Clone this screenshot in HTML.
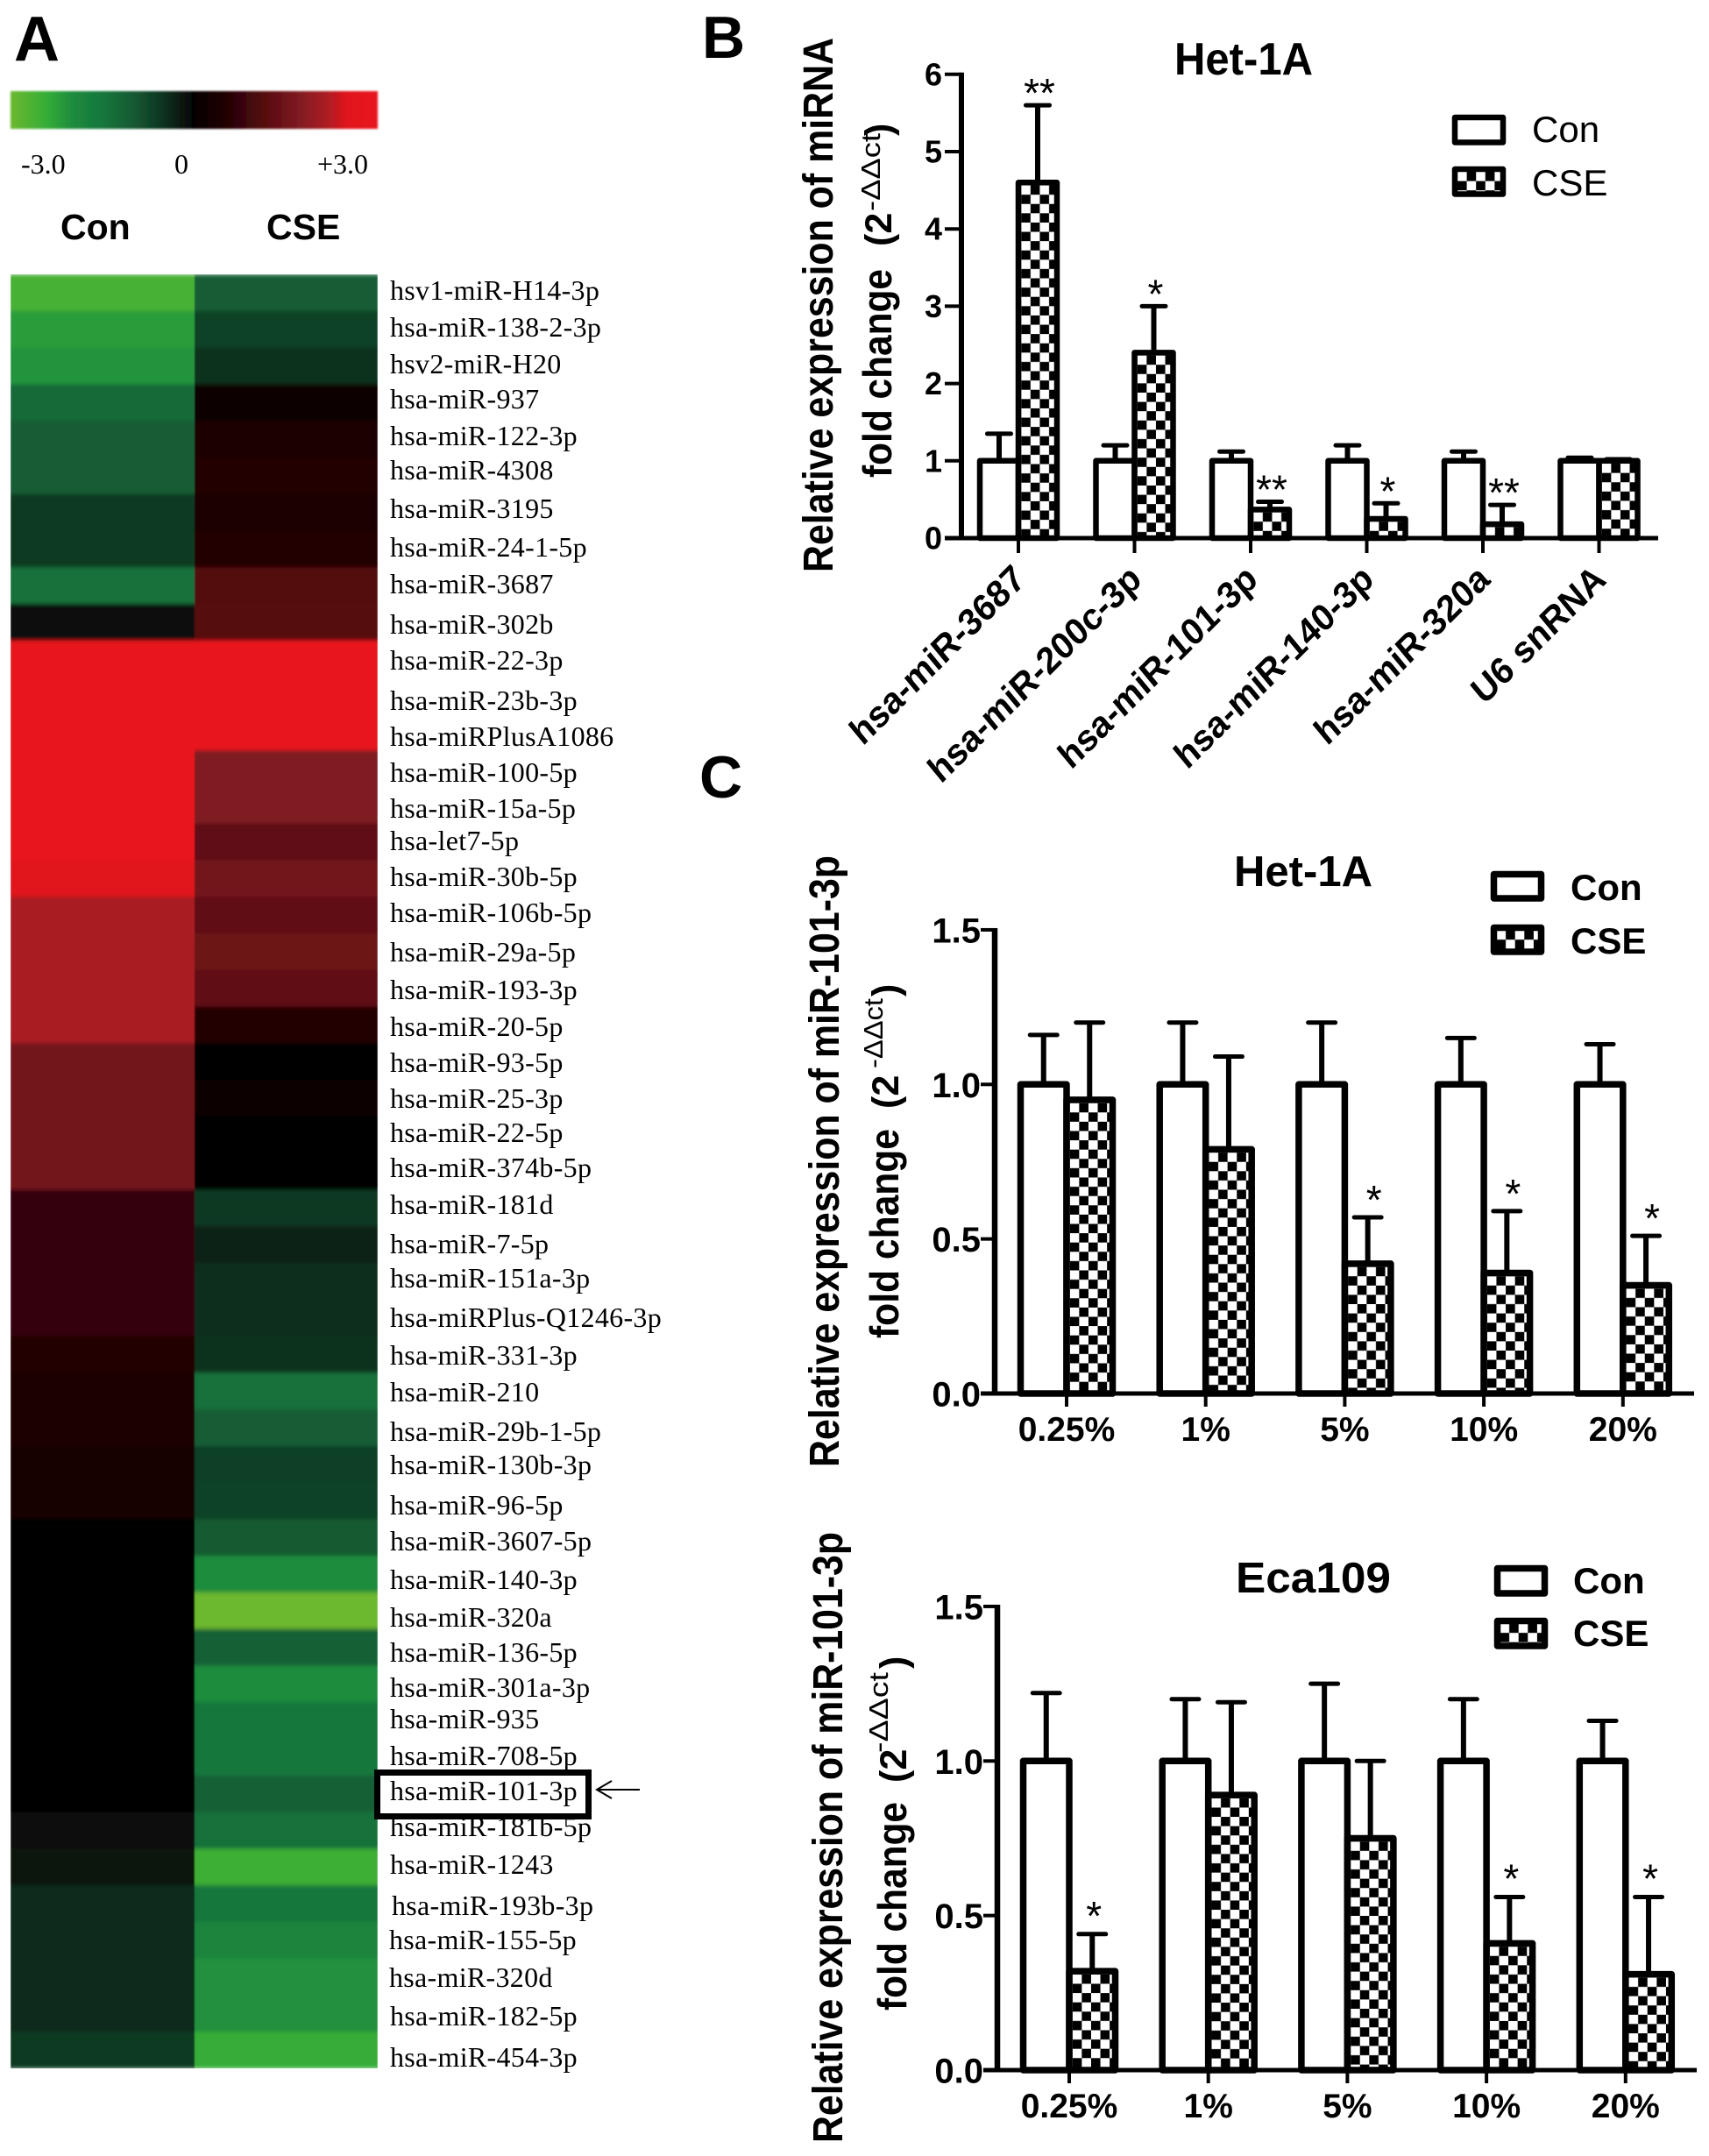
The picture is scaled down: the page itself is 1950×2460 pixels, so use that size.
<!DOCTYPE html>
<html lang="en">
<head>
<meta charset="utf-8">
<title>miRNA heatmap and qPCR bar charts</title>
<style>
html,body{margin:0;padding:0;background:#fff;}
svg{display:block;}
text{fill:#000;}
.sans{font-family:"Liberation Sans",sans-serif;}
.bold{font-family:"Liberation Sans",sans-serif;font-weight:700;}
.rowlabel{font-family:"Liberation Serif",serif;font-size:32px;letter-spacing:.3px;}
.cb{font-family:"Liberation Serif",serif;font-size:32px;}
.panel{font-family:"Liberation Sans",sans-serif;font-weight:700;font-size:68px;}
</style>
</head>
<body>
<svg id="figure" xmlns="http://www.w3.org/2000/svg" width="1950" height="2460" viewBox="0 0 1950 2460">
<defs>
  <filter id="softY" x="-2%" y="-2%" width="104%" height="104%"><feGaussianBlur stdDeviation="0.8 2.4"/></filter>
  <filter id="softBar" x="-2%" y="-10%" width="104%" height="120%"><feGaussianBlur stdDeviation="1"/></filter>
  <clipPath id="heatClip"><rect x="12" y="313" width="419" height="2047"/></clipPath>
  <linearGradient id="colorbarGradient" x1="0" x2="1" y1="0" y2="0"></linearGradient>
</defs>
<rect width="1950" height="2460" fill="#fff"/>

<!-- Panel A -->
<text class="panel" style="font-size:72px" x="16" y="69">A</text>
<rect x="12" y="104" width="419" height="43" fill="url(#colorbarGradient)" filter="url(#softBar)"/>
<text class="cb" x="24" y="198">-3.0</text>
<text class="cb" x="207" y="198" text-anchor="middle">0</text>
<text class="cb" x="362" y="198">+3.0</text>
<text class="bold" style="font-size:41px" x="69" y="273">Con</text>
<text class="bold" style="font-size:41px" x="304" y="273">CSE</text>
<g clip-path="url(#heatClip)"><g id="heatmap" filter="url(#softY)"></g></g>

<g>
<text class="rowlabel" x="445" y="342">hsv1-miR-H14-3p</text>
<text class="rowlabel" x="445" y="384">hsa-miR-138-2-3p</text>
<text class="rowlabel" x="445" y="426">hsv2-miR-H20</text>
<text class="rowlabel" x="445" y="466">hsa-miR-937</text>
<text class="rowlabel" x="445" y="508">hsa-miR-122-3p</text>
<text class="rowlabel" x="445" y="547">hsa-miR-4308</text>
<text class="rowlabel" x="445" y="591">hsa-miR-3195</text>
<text class="rowlabel" x="445" y="635">hsa-miR-24-1-5p</text>
<text class="rowlabel" x="445" y="677">hsa-miR-3687</text>
<text class="rowlabel" x="445" y="723">hsa-miR-302b</text>
<text class="rowlabel" x="445" y="764">hsa-miR-22-3p</text>
<text class="rowlabel" x="445" y="810">hsa-miR-23b-3p</text>
<text class="rowlabel" x="445" y="851">hsa-miRPlusA1086</text>
<text class="rowlabel" x="445" y="892">hsa-miR-100-5p</text>
<text class="rowlabel" x="445" y="933">hsa-miR-15a-5p</text>
<text class="rowlabel" x="445" y="970">hsa-let7-5p</text>
<text class="rowlabel" x="445" y="1011">hsa-miR-30b-5p</text>
<text class="rowlabel" x="445" y="1052">hsa-miR-106b-5p</text>
<text class="rowlabel" x="445" y="1097">hsa-miR-29a-5p</text>
<text class="rowlabel" x="445" y="1140">hsa-miR-193-3p</text>
<text class="rowlabel" x="445" y="1182">hsa-miR-20-5p</text>
<text class="rowlabel" x="445" y="1223">hsa-miR-93-5p</text>
<text class="rowlabel" x="445" y="1264">hsa-miR-25-3p</text>
<text class="rowlabel" x="445" y="1303">hsa-miR-22-5p</text>
<text class="rowlabel" x="445" y="1343">hsa-miR-374b-5p</text>
<text class="rowlabel" x="445" y="1385">hsa-miR-181d</text>
<text class="rowlabel" x="445" y="1430">hsa-miR-7-5p</text>
<text class="rowlabel" x="445" y="1469">hsa-miR-151a-3p</text>
<text class="rowlabel" x="445" y="1514">hsa-miRPlus-Q1246-3p</text>
<text class="rowlabel" x="445" y="1557">hsa-miR-331-3p</text>
<text class="rowlabel" x="445" y="1599">hsa-miR-210</text>
<text class="rowlabel" x="445" y="1644">hsa-miR-29b-1-5p</text>
<text class="rowlabel" x="445" y="1682">hsa-miR-130b-3p</text>
<text class="rowlabel" x="445" y="1728">hsa-miR-96-5p</text>
<text class="rowlabel" x="445" y="1769">hsa-miR-3607-5p</text>
<text class="rowlabel" x="445" y="1813">hsa-miR-140-3p</text>
<text class="rowlabel" x="445" y="1856">hsa-miR-320a</text>
<text class="rowlabel" x="445" y="1896">hsa-miR-136-5p</text>
<text class="rowlabel" x="445" y="1936">hsa-miR-301a-3p</text>
<text class="rowlabel" x="445" y="1972">hsa-miR-935</text>
<text class="rowlabel" x="445" y="2014">hsa-miR-708-5p</text>
<text class="rowlabel" x="445" y="2095">hsa-miR-181b-5p</text>
<text class="rowlabel" x="445" y="2138">hsa-miR-1243</text>
<text class="rowlabel" x="447" y="2185">hsa-miR-193b-3p</text>
<text class="rowlabel" x="444" y="2224">hsa-miR-155-5p</text>
<text class="rowlabel" x="444" y="2267">hsa-miR-320d</text>
<text class="rowlabel" x="445" y="2311">hsa-miR-182-5p</text>
<text class="rowlabel" x="445" y="2358">hsa-miR-454-3p</text>
</g>
<rect x="430.5" y="2022.5" width="241" height="50" fill="#fff" stroke="#000" stroke-width="7"/>
<text class="rowlabel" x="445" y="2054">hsa-miR-101-3p</text>
<path d="M730 2042H681M698 2032L681 2042L698 2052" fill="none" stroke="#000" stroke-width="2"/>

<!-- Panel labels -->
<text class="panel" x="801" y="66">B</text>
<text class="panel" x="798" y="910">C</text>

<!-- Chart B static text -->
<g>
<text class="bold" style="font-size:52px" x="1340" y="85" textLength="158" lengthAdjust="spacingAndGlyphs">Het-1A</text>
<text class="bold" style="font-size:48px" transform="translate(950,653) rotate(-90)" textLength="610" lengthAdjust="spacingAndGlyphs">Relative expression of miRNA</text>
<text class="bold" style="font-size:46px" transform="translate(1017,545) rotate(-90)" textLength="238" lengthAdjust="spacingAndGlyphs">fold change</text>
<text class="bold" style="font-size:43px" transform="translate(1017,281) rotate(-90)">(2</text>
<text class="sans" style="font-size:31px" transform="translate(1004,241) rotate(-90)" textLength="89" lengthAdjust="spacingAndGlyphs">-ΔΔct</text>
<text class="bold" style="font-size:43px" transform="translate(1017,155) rotate(-90)">)</text>
<text class="sans" style="font-size:42px" x="1748" y="162">Con</text>
<text class="sans" style="font-size:42px" x="1748" y="223">CSE</text>
</g>

<!-- Chart C1 static text -->
<g>
<text class="bold" style="font-size:49px" x="1408" y="1011" textLength="158" lengthAdjust="spacingAndGlyphs">Het-1A</text>
<text class="bold" style="font-size:48px" transform="translate(957,1674) rotate(-90)" textLength="698" lengthAdjust="spacingAndGlyphs">Relative expression of miR-101-3p</text>
<text class="bold" style="font-size:46px" transform="translate(1025,1527) rotate(-90)" textLength="239" lengthAdjust="spacingAndGlyphs">fold change</text>
<text class="bold" style="font-size:43px" transform="translate(1025,1265) rotate(-90)">(2</text>
<text class="sans" style="font-size:31px" transform="translate(1007,1219) rotate(-90)" textLength="80" lengthAdjust="spacingAndGlyphs">-ΔΔct</text>
<text class="bold" style="font-size:43px" transform="translate(1025,1137) rotate(-90)">)</text>
<text class="bold" style="font-size:42px" x="1792" y="1027">Con</text>
<text class="bold" style="font-size:42px" x="1792" y="1088">CSE</text>
</g>

<!-- Chart C2 static text -->
<g>
<text class="bold" style="font-size:49px" x="1410" y="1817" textLength="177" lengthAdjust="spacingAndGlyphs">Eca109</text>
<text class="bold" style="font-size:48px" transform="translate(961,2445) rotate(-90)" textLength="697" lengthAdjust="spacingAndGlyphs">Relative expression of miR-101-3p</text>
<text class="bold" style="font-size:46px" transform="translate(1034,2294) rotate(-90)" textLength="238" lengthAdjust="spacingAndGlyphs">fold change</text>
<text class="bold" style="font-size:43px" transform="translate(1034,2034) rotate(-90)">(2</text>
<text class="sans" style="font-size:31px" transform="translate(1013,2000) rotate(-90)" textLength="92" lengthAdjust="spacingAndGlyphs">-ΔΔct</text>
<text class="bold" style="font-size:43px" transform="translate(1034,1904) rotate(-90)">)</text>
<text class="bold" style="font-size:42px" x="1795" y="1818">Con</text>
<text class="bold" style="font-size:42px" x="1795" y="1878">CSE</text>
</g>

<g id="chartB"></g>
<g id="chartC1"></g>
<g id="chartC2"></g>
</svg>

<script>
/* ---------- Panel A data ---------- */
var colorValues = [-3, -2.4, -2, -1.5, -1, -0.5, 0, 0.5, 1.2, 1.7, 2.15, 2.5, 3];
var colorHexes = ['#6cb82e', '#34ad37', '#1f8c3d', '#14773c', '#135a33', '#10331f', '#050304', '#200304', '#5a0a10', '#7e1a21', '#a91d24', '#e0141b', '#e8141a'];
var heatConValues = [-2.6, -2.2, -2.1, -1.3, -1.05, -1.05, -0.6, -0.6, -1.4, -0.1,
  3, 3, 3, 3, 3, 3, 2.5, 2.15, 2.15, 2.15, 2.15, 1.55, 1.55, 1.55, 1.55,
  0.75, 0.75, 0.75, 0.75, 0.55, 0.45, 0.4, 0.35, 0.3,
  0, 0, 0, 0, 0, 0, 0, 0, -0.15, -0.2, -0.4, -0.4, -0.4, -0.4, -0.6];
var heatCseValues = [-1.05, -0.7, -0.5, 0.2, 0.45, 0.5, 0.48, 0.55, 1.1, 1.15,
  3, 3, 3, 1.7, 1.7, 1.25, 1.55, 1.3, 1.45, 1.28, 0.5, 0.02, 0.2, 0, 0,
  -0.55, -0.3, -0.45, -0.45, -0.5, -1.4, -1.05, -0.65, -0.7, -1.0,
  -2, -3, -1.1, -2, -1.5, -1.5, -1.1, -1.4, -2.5, -1.5, -1.8, -2.05, -2.05, -2.4];

/* ---------- Panel B data ---------- */
var bCategories = ['hsa-miR-3687', 'hsa-miR-200c-3p', 'hsa-miR-101-3p', 'hsa-miR-140-3p', 'hsa-miR-320a', 'U6 snRNA'];
var bConMeans = [1, 1, 1, 1, 1, 1];
var bCseMeans = [4.6, 2.4, 0.37, 0.25, 0.18, 1];
var bConErrTops = [1.35, 1.2, 1.12, 1.2, 1.12, 1.04];
var bCseErrTops = [5.6, 3.0, 0.47, 0.45, 0.43, 1.02];
var bStars = ['**', '*', '**', '*', '**', ''];
var bYTicks = [0, 1, 2, 3, 4, 5, 6];
var bYTickLabels = ['0', '1', '2', '3', '4', '5', '6'];

/* ---------- Panel C (Het-1A) data ---------- */
var c1Categories = ['0.25%', '1%', '5%', '10%', '20%'];
var c1ConMeans = [1, 1, 1, 1, 1];
var c1CseMeans = [0.95, 0.79, 0.42, 0.39, 0.35];
var c1ConErrTops = [1.16, 1.2, 1.2, 1.15, 1.13];
var c1CseErrTops = [1.2, 1.09, 0.57, 0.59, 0.51];
var c1Stars = ['', '', '*', '*', '*'];
var c1YTicks = [0, 0.5, 1, 1.5];
var c1YTickLabels = ['0.0', '0.5', '1.0', '1.5'];

/* ---------- Panel C (Eca109) data ---------- */
var c2Categories = ['0.25%', '1%', '5%', '10%', '20%'];
var c2ConMeans = [1, 1, 1, 1, 1];
var c2CseMeans = [0.32, 0.89, 0.75, 0.41, 0.31];
var c2ConErrTops = [1.22, 1.2, 1.25, 1.2, 1.13];
var c2CseErrTops = [0.44, 1.19, 1.0, 0.56, 0.56];
var c2Stars = ['*', '', '', '*', '*'];
var c2YTicks = [0, 0.5, 1, 1.5];
var c2YTickLabels = ['0.0', '0.5', '1.0', '1.5'];

var NS = 'http://www.w3.org/2000/svg';
function mk(parent, tag, attrs, txt) {
  var el = document.createElementNS(NS, tag);
  for (var k in attrs) el.setAttribute(k, attrs[k]);
  if (txt !== undefined) el.textContent = txt;
  parent.appendChild(el);
  return el;
}
function hexRgb(h) { return [parseInt(h.substr(1, 2), 16), parseInt(h.substr(3, 2), 16), parseInt(h.substr(5, 2), 16)]; }
function colorScale(v) {
  if (v <= colorValues[0]) return colorHexes[0];
  for (var i = 1; i < colorValues.length; i++) {
    if (v <= colorValues[i]) {
      var t = (v - colorValues[i - 1]) / (colorValues[i] - colorValues[i - 1]);
      var a = hexRgb(colorHexes[i - 1]), b = hexRgb(colorHexes[i]);
      return 'rgb(' + Math.round(a[0] + (b[0] - a[0]) * t) + ',' + Math.round(a[1] + (b[1] - a[1]) * t) + ',' + Math.round(a[2] + (b[2] - a[2]) * t) + ')';
    }
  }
  return colorHexes[colorHexes.length - 1];
}

/* colour bar */
var grad = document.getElementById('colorbarGradient');
colorValues.forEach(function (v, i) {
  mk(grad, 'stop', { offset: ((v + 3) / 6 * 100) + '%', 'stop-color': colorHexes[i] });
});

/* heat map */
(function () {
  var g = document.getElementById('heatmap');
  var top = 313, bottom = 2360;
  var rowCount = heatConValues.length;
  function rowY(i) { return top + (bottom - top) * i / rowCount; }
  function drawColumn(values, x, w, name) {
    values.forEach(function (v, i) {
      var cell = mk(g, 'rect', { x: x, y: rowY(i), width: w, height: rowY(i + 1) - rowY(i) + 0.5, fill: colorScale(v) });
      
      
    });
  }
  drawColumn(heatConValues, 12, 210, 'con');
  drawColumn(heatCseValues, 222, 209, 'cse');
})();

/* bar charts */
var patternCount = 0;
function checkerPattern(svgDefs, ox, oy, cell) {
  var id = 'chk' + (patternCount++);
  var p = mk(svgDefs, 'pattern', { id: id, patternUnits: 'userSpaceOnUse', x: ox, y: oy, width: cell * 2, height: cell * 2 });
  mk(p, 'rect', { x: 0, y: 0, width: cell * 2, height: cell * 2, fill: '#000' });
  mk(p, 'rect', { x: 0, y: 0, width: cell, height: cell, fill: '#fff' });
  mk(p, 'rect', { x: cell, y: cell, width: cell, height: cell, fill: '#fff' });
  return 'url(#' + id + ')';
}

function drawChart(g, d, L) {
  var defs = document.querySelector('svg defs');
  function yS(v) { return L.y0 - v * L.unit; }
  function xS(i) { return L.x0 + i * L.step; }

  function drawBar(cx, val, errTop, isCse) {
    var x = isCse ? cx : cx - L.barW;
    var fill = isCse ? checkerPattern(defs, x + L.stroke / 2, yS(val) + L.stroke / 2, 10.6) : '#fff';
    var stem = mk(g, 'line', { x1: x + L.barW / 2, x2: x + L.barW / 2, y1: yS(val), y2: yS(errTop), stroke: '#000', 'stroke-width': 6 });
    
    
    var cap = mk(g, 'line', { x1: x + L.barW / 2 - L.capW / 2, x2: x + L.barW / 2 + L.capW / 2, y1: yS(errTop), y2: yS(errTop), stroke: '#000', 'stroke-width': 5, 'stroke-linecap': 'round' });
    
    
    var bar = mk(g, 'rect', { x: x, y: yS(val), width: L.barW, height: L.y0 - yS(val), fill: fill, stroke: '#000', 'stroke-width': L.stroke, 'stroke-linejoin': 'round' });
    
    
  }

  d.categories.forEach(function (c, i) {
    var cx = xS(i);
    drawBar(cx, d.con[i], d.conErr[i], false);
    drawBar(cx, d.cse[i], d.cseErr[i], true);
    if (d.stars[i]) {
      var st = mk(g, 'text', { 'class': 'sans', x: cx + L.barW / 2 + L.starDx, y: yS(d.cseErr[i]) - L.starGap + 26, 'text-anchor': 'middle', style: 'font-size:46px' }, d.stars[i]);
      
      
    }
    var tick = mk(g, 'line', { x1: cx, x2: cx, y1: L.y0, y2: L.tickBottom, stroke: '#000', 'stroke-width': 4 });
    
    
    var lab;
    if (L.rotated) {
      lab = mk(g, 'text', { 'class': 'bold', 'text-anchor': 'end', style: 'font-size:' + L.xFont + 'px',
        transform: 'translate(' + (cx + L.rotDx) + ',' + L.rotY + ') scale(1,1.1) rotate(-42.3)' }, c);
    } else {
      lab = mk(g, 'text', { 'class': 'bold', x: cx, y: L.labelY, 'text-anchor': 'middle', style: 'font-size:' + L.xFont + 'px' }, c);
    }
    
    
  });

  var yAxis = mk(g, 'line', { x1: L.axisX, x2: L.axisX, y1: yS(d.yTicks[d.yTicks.length - 1]) - 2, y2: L.y0 + 2, stroke: '#000', 'stroke-width': L.axisW });
  
  
  var xAxis = mk(g, 'line', { x1: L.tickLeft, x2: L.axisEnd, y1: L.y0, y2: L.y0, stroke: '#000', 'stroke-width': 5 });
  
  

  d.yTicks.forEach(function (t, i) {
    var tk = mk(g, 'line', { x1: L.tickLeft, x2: L.axisX, y1: yS(t), y2: yS(t), stroke: '#000', 'stroke-width': 4 });
    
    
    var tl = mk(g, 'text', { 'class': 'bold', x: L.tickLabelX, y: yS(t) + L.tickBase, 'text-anchor': 'end', style: 'font-size:' + L.yFont + 'px' }, d.yLabels[i]);
    
    
  });

  var con = mk(g, 'rect', { x: L.lgX, y: L.lgConY, width: L.lgW, height: L.lgH, fill: '#fff', stroke: '#000', 'stroke-width': L.stroke, 'stroke-linejoin': 'round' });
  
  
  var cse = mk(g, 'rect', { x: L.lgX, y: L.lgCseY, width: L.lgW, height: L.lgH, fill: checkerPattern(defs, L.lgX + 3, L.lgCseY + 3, 10.6), stroke: '#000', 'stroke-width': L.stroke, 'stroke-linejoin': 'round' });
  
  
}

drawChart(document.getElementById('chartB'),
  { categories: bCategories, con: bConMeans, cse: bCseMeans, conErr: bConErrTops, cseErr: bCseErrTops, stars: bStars, yTicks: bYTicks, yLabels: bYTickLabels },
  { x0: 1162, step: 132.5, y0: 614, unit: 88.2, barW: 44, stroke: 6.5, capW: 27, axisX: 1097, axisW: 6, axisEnd: 1892, tickLeft: 1078,
    tickBottom: 631, tickLabelX: 1075, tickBase: 12.5, yFont: 36, xFont: 39, starGap: 24, starDx: 2, rotated: true, rotDx: 10, rotY: 664,
    lgX: 1660, lgConY: 134, lgCseY: 193, lgW: 55, lgH: 28.5 });

drawChart(document.getElementById('chartC1'),
  { categories: c1Categories, con: c1ConMeans, cse: c1CseMeans, conErr: c1ConErrTops, cseErr: c1CseErrTops, stars: c1Stars, yTicks: c1YTicks, yLabels: c1YTickLabels },
  { x0: 1217, step: 158.7, y0: 1590, unit: 352.7, barW: 52.5, stroke: 7.5, capW: 31, axisX: 1135, axisW: 6.5, axisEnd: 1933, tickLeft: 1119,
    tickBottom: 1605, tickLabelX: 1119, tickBase: 14.5, yFont: 40, xFont: 39, starGap: 30, starDx: 7, rotated: false, labelY: 1644,
    lgX: 1704.5, lgConY: 997.5, lgCseY: 1058.5, lgW: 54, lgH: 27.5 });

drawChart(document.getElementById('chartC2'),
  { categories: c2Categories, con: c2ConMeans, cse: c2CseMeans, conErr: c2ConErrTops, cseErr: c2CseErrTops, stars: c2Stars, yTicks: c2YTicks, yLabels: c2YTickLabels },
  { x0: 1220, step: 158.7, y0: 2362, unit: 352.7, barW: 52.5, stroke: 7.5, capW: 31, axisX: 1138, axisW: 6.5, axisEnd: 1936, tickLeft: 1122,
    tickBottom: 2377, tickLabelX: 1122, tickBase: 14.5, yFont: 40, xFont: 39, starGap: 31, starDx: 2, rotated: false, labelY: 2416,
    lgX: 1708.5, lgConY: 1789.5, lgCseY: 1849.5, lgW: 54, lgH: 28.5 });
</script>
</body>
</html>
